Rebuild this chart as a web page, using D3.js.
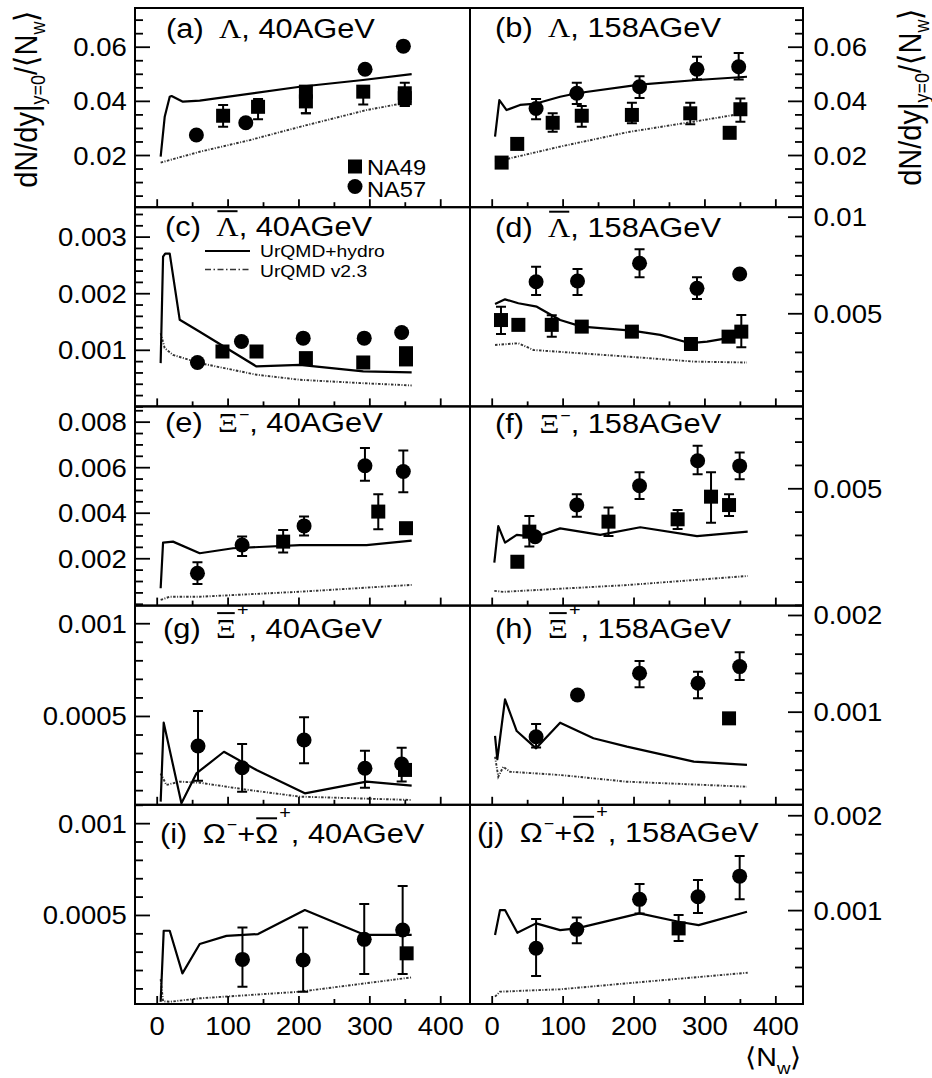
<!DOCTYPE html>
<html>
<head>
<meta charset="utf-8">
<script src="https://cdn.jsdelivr.net/npm/d3@7"></script>
<style>
  html, body { margin: 0; padding: 0; background: #fff; }
</style>
</head>
<body>
<svg id="fig" width="932" height="1078"></svg>
<script>
// Strange-baryon yields per wounded nucleon at midrapidity vs. <N_w>.
// Points: [N_w, value, errLow, errHigh]; model curves: [N_w, value].

// (a) Lambda, 40 AGeV
const lam40NA49 = [[93.7,0.0345,0.0304,0.0385],[143,0.0378,0.0332,0.0407],[210.5,0.0434,0.0354,0.0450],[210.5,0.0398,0.0354,0.0434],[291.4,0.0434,0.0387,0.0455],[350,0.0428,0.0381,0.0467],[350,0.0410,0.0381,0.0440]];
const lam40NA57 = [[56,0.0274],[125.7,0.0319],[294,0.0517],[348,0.0602]];
const lam40Hydro = [[5.6,0.0194],[11.3,0.0341],[18.4,0.0415],[21,0.0418],[37,0.0397],[60.7,0.0401],[202,0.0452],[291,0.0477],[359.7,0.0499]];
const lam40V23 = [[5.6,0.0172],[60.7,0.0212],[131.4,0.0255],[202,0.0304],[296,0.0366],[359.7,0.0397]];

// (b) Lambda, 158 AGeV
const lam158NA49 = [[14,0.0172],[36,0.0241],[86,0.0319,0.0286,0.0354],[127,0.0345,0.0304,0.0381],[197.7,0.0348,0.0317,0.0393],[280,0.0354,0.0314,0.0393],[335.6,0.0282],[350.7,0.0369,0.0323,0.0409]];
const lam158NA57 = [[62.6,0.0372,0.0332,0.0407],[120,0.0428,0.0388,0.0467],[208.5,0.0452,0.0411,0.0491],[289.5,0.0517,0.0480,0.0563],[348.3,0.0526,0.0479,0.0577]];
const lam158Hydro = [[4.7,0.0268],[10.8,0.0403],[21,0.0366],[40,0.0385],[62.6,0.039],[96.5,0.0415],[120,0.0428],[208.5,0.046],[289.5,0.0477],[360,0.0489]];
const lam158V23 = [[4.7,0.0175],[96.5,0.0231],[195,0.0286],[284.7,0.0323],[360,0.0356]];

// (c) anti-Lambda, 40 AGeV
const alam40NA49 = [[92.8,0.00097],[140.8,0.00097],[210.5,0.000853],[291.4,0.000776],[351.7,0.00094],[351.7,0.00083]];
const alam40NA57 = [[57.5,0.000776],[119.6,0.001146],[206.7,0.001206],[292.8,0.001206],[345.6,0.001306]];
const alam40Hydro = [[5.6,0.000765],[9,0.002646],[12,0.0027],[18.4,0.0027],[32.5,0.00153],[60.7,0.00132],[140.8,0.000706],[202,0.000735],[291.4,0.000618],[359.7,0.0006]];
const alam40V23 = [[5.6,0.001294],[11.3,0.00103],[23,0.00091],[60.7,0.000765],[140.8,0.00056],[202,0.00047],[291.4,0.00041],[359.7,0.00037]];

// (d) anti-Lambda, 158 AGeV
const alam158NA49 = [[13.1,0.00465,0.00393,0.00534],[37.6,0.0044],[84.7,0.0044,0.00379,0.0049],[127,0.00431],[197.7,0.00405],[281,0.00341],[334,0.00379],[352,0.00405,0.00324,0.00491]];
const alam158NA57 = [[62.6,0.00663,0.00595,0.00741],[121,0.00667,0.00595,0.00729],[208.5,0.00759,0.00686,0.00831],[289.5,0.00629,0.00574,0.00686],[349.7,0.00703]];
const alam158Hydro = [[4.7,0.00548],[18.8,0.00572],[37.6,0.00552],[63.6,0.00534],[96.5,0.00465],[127,0.00431],[197.7,0.0041],[237.7,0.00388],[280,0.00345],[303.7,0.00353],[360,0.00388]];
const alam158V23 = [[4.7,0.00336],[37.6,0.00345],[58.8,0.0031],[190.7,0.00276],[285,0.0025],[360,0.00245]];

// (e) Xi-, 40 AGeV
const xim40NA49 = [[178.4,0.00273,0.00225,0.00324],[312.6,0.00405,0.00327,0.00481],[351.7,0.00332]];
const xim40NA57 = [[57.5,0.00134,0.00087,0.00182],[120.5,0.00258,0.0021,0.00295],[207.9,0.00342,0.003,0.00383],[293.8,0.00606,0.0054,0.00684],[347.9,0.00581,0.0049,0.00673]];
const xim40Hydro = [[5.6,0.00068],[9,0.00269],[23,0.00273],[60.7,0.00222],[107.7,0.00244],[202,0.00258],[296,0.00258],[359.7,0.00277]];
const xim40V23 = [[5.6,0.00017],[18.4,0.00031],[60.7,0.00031],[202,0.00053],[359.7,0.00083]];

// (f) Xi-, 158 AGeV
const xim158NA49 = [[36.2,0.00185],[53.1,0.00314,0.0025,0.00381],[164.7,0.00357,0.00295,0.00418],[262.2,0.00367,0.00325,0.00407],[309.3,0.00464,0.00352,0.00569],[334.7,0.00428,0.00381,0.00474]];
const xim158NA57 = [[61.2,0.00292],[120,0.00428,0.00378,0.00474],[208.5,0.00511,0.00454,0.00569],[290.4,0.00618,0.0056,0.00682],[349.7,0.00596,0.00539,0.00653]];
const xim158Hydro = [[3.7,0.00181],[9.3,0.00338],[18.8,0.00267],[35.3,0.003],[62.6,0.00292],[96.5,0.00328],[153,0.003],[209.5,0.00333],[289.5,0.00295],[361,0.00314]];
const xim158V23 = [[3.7,0.0006],[16.4,0.00056],[190.7,0.00085],[361,0.00124]];

// (g) anti-Xi+, 40 AGeV
const axi40NA49 = [[350.3,0.000209]];
const axi40NA57 = [[58.3,0.000338,0.00015,0.000527],[120.5,0.000221,0.000092,0.000349],[207.9,0.00037,0.000245,0.000493],[293.8,0.000218,0.000113,0.000313],[345.6,0.000241,0.000146,0.000329]];
const axi40Hydro = [[5.6,0.000038],[9.9,0.000464],[34.9,0.000029],[56,0.00019],[94.9,0.000307],[140.8,0.000209],[209,0.000083],[296,0.000146],[359.7,0.000124]];
const axi40V23 = [[5.6,0.00019],[13.7,0.000128],[32.5,0.000146],[60.7,0.00014],[131.4,0.0001],[202,0.000065],[359.7,0.000047]];

// (h) anti-Xi+, 158 AGeV
const axi158NA49 = [[334.7,0.000931]];
const axi158NA57 = [[62.6,0.000741,0.00063,0.000873],[121,0.001173],[208.5,0.001397,0.001252,0.001524],[290.9,0.001294,0.001138,0.001414],[349.7,0.001466,0.001328,0.001614]];
const axi158Hydro = [[4.7,0.000749],[7.9,0.000508],[18.8,0.001128],[35.3,0.0008],[62.6,0.000621],[96.5,0.000886],[143.5,0.000725],[190.7,0.000638],[285,0.000483],[360,0.000449]];
const axi158V23 = [[4.7,0.000534],[9.3,0.000328],[16.4,0.000431],[25.8,0.000379],[96.5,0.000345],[190.7,0.000276],[360,0.000224]];

// (i) Omega- + anti-Omega+, 40 AGeV
const om40NA49 = [[352.6,0.000291]];
const om40NA57 = [[121,0.000258,0.000109,0.000431],[206.6,0.000255,0.000082,0.000431],[292.8,0.000367,0.000178,0.00056],[347,0.000418,0.000178,0.000658]];
const om40Hydro = [[5.6,0.000027],[9.9,0.000414],[18.4,0.000414],[36.3,0.000182],[60.7,0.000342],[98.4,0.000386],[143,0.000396],[209,0.000527],[293.8,0.000391],[359.7,0.000391]];
const om40V23 = [[5.6,0.00015],[9,0.00003],[18.4,0.000027],[60.7,0.000046],[202,0.000082],[359.7,0.00016]];

// (j) Omega- + anti-Omega+, 158 AGeV
const om158NA49 = [[263.6,0.000807,0.000674,0.000947]];
const om158NA57 = [[62.6,0.000597,0.000305,0.000905],[120,0.000797,0.00065,0.000923],[208.5,0.001113,0.000965,0.001274],[290.9,0.00114,0.00097,0.001316],[349.7,0.001358,0.001113,0.00157]];
const om158Hydro = [[4.7,0.000737],[11.7,0.001],[18.8,0.001],[36.2,0.000761],[62.6,0.00086],[96.5,0.000789],[120,0.000807],[208.5,0.000965],[263.6,0.000877],[291.8,0.000842],[360,0.000982]];
const om158V23 = [[4.7,0.000087],[11.7,0.00014],[96.5,0.000165],[190.7,0.000228],[361,0.00034]];

// Axis ticks
const xMajor = [0, 100, 200, 300, 400];
const xMinor = [50, 150, 250, 350];
const xLabels = ["0", "100", "200", "300", "400"];

const legendData = ["NA49", "NA57"];
const legendModels = ["UrQMD+hydro", "UrQMD v2.3"];

// ---------------------------------------------------------------------------
const FONT = "'Liberation Sans', Arial, Helvetica, sans-serif";
const SERIF = "'Liberation Serif', 'Times New Roman', serif";
const SX = 1.1;              // horizontal glyph stretch
const FL = 135, FM = 470, FR = 803, FT = 8, FB = 1004;
const ROWH = (FB - FT) / 5;
const xDomL = [-30.6, 442], xDomR = [-30.6, 439];
const TITLE = 28;

const particles = {
  lam:  [{t: "Λ", serif: true}],
  alam: [{t: "Λ", serif: true, bar: true}],
  xim:  [{t: "Ξ", serif: true, gap: 1}, {t: "−", size: 16, dy: -12}],
  axi:  [{t: "Ξ", serif: true, bar: true, gap: 1}, {t: "+", size: 18, dy: -22}],
  om:   [{t: "Ω", gap: 1}, {t: "−", size: 16, dy: -13}, {t: "+"}, {t: "Ω", bar: true, gap: 1}, {t: "+", size: 18, dy: -24}]
};

const panels = [
  {tag: "(a)", sym: "lam",  en: "40AGeV",  col: 0, row: 0, tx: 166, ty: 30,   dom: [0.00072, 0.0743], maj: [0.02, 0.04, 0.06], lab: ["0.02", "0.04", "0.06"], step: 0.005, na49: lam40NA49, na57: lam40NA57, hydro: lam40Hydro, v23: lam40V23},
  {tag: "(b)", sym: "lam",  en: "158AGeV", col: 1, row: 0, tx: 495, ty: 29,   dom: [0.00072, 0.0743], maj: [0.02, 0.04, 0.06], lab: ["0.02", "0.04", "0.06"], step: 0.005, na49: lam158NA49, na57: lam158NA57, hydro: lam158Hydro, v23: lam158V23},
  {tag: "(c)", sym: "alam", en: "40AGeV",  col: 0, row: 1, tx: 165, ty: 29,   dom: [0, 0.00352], maj: [0.001, 0.002, 0.003], lab: ["0.001", "0.002", "0.003"], step: 0.0002, na49: alam40NA49, na57: alam40NA57, hydro: alam40Hydro, v23: alam40V23},
  {tag: "(d)", sym: "alam", en: "158AGeV", col: 1, row: 1, tx: 495, ty: 29.5, dom: [0.00018, 0.01049], maj: [0.005, 0.01], lab: ["0.005", "0.01"], step: 0.001, na49: alam158NA49, na57: alam158NA57, hydro: alam158Hydro, v23: alam158V23},
  {tag: "(e)", sym: "xim",  en: "40AGeV",  col: 0, row: 2, tx: 165, ty: 25.5, dom: [-0.00008, 0.00867], maj: [0.002, 0.004, 0.006, 0.008], lab: ["0.002", "0.004", "0.006", "0.008"], step: 0.0005, na49: xim40NA49, na57: xim40NA57, hydro: xim40Hydro, v23: xim40V23},
  {tag: "(f)", sym: "xim",  en: "158AGeV", col: 1, row: 2, tx: 495, ty: 27,   dom: [-0.00003, 0.00851], maj: [0.005], lab: ["0.005"], step: 0.001, na49: xim158NA49, na57: xim158NA57, hydro: xim158Hydro, v23: xim158V23},
  {tag: "(g)", sym: "axi",  en: "40AGeV",  col: 0, row: 3, tx: 163, ty: 32.5, dom: [0.000021, 0.001095], maj: [0.0005, 0.001], lab: ["0.0005", "0.001"], step: 0.0001, na49: axi40NA49, na57: axi40NA57, hydro: axi40Hydro, v23: axi40V23},
  {tag: "(h)", sym: "axi",  en: "158AGeV", col: 1, row: 3, tx: 495, ty: 32.5, dom: [0.000037, 0.002097], maj: [0.001, 0.002], lab: ["0.001", "0.002"], step: 0.0002, na49: axi158NA49, na57: axi158NA57, hydro: axi158Hydro, v23: axi158V23},
  {tag: "(i)", sym: "om",   en: "40AGeV",  col: 0, row: 4, tx: 160, ty: 38.5, dom: [0.000015, 0.0011], maj: [0.0005, 0.001], lab: ["0.0005", "0.001"], step: 0.0001, na49: om40NA49, na57: om40NA57, hydro: om40Hydro, v23: om40V23},
  {tag: "(j)", sym: "om",   en: "158AGeV", col: 1, row: 4, tx: 477, ty: 37,   dom: [0.00001, 0.00211], maj: [0.001, 0.002], lab: ["0.001", "0.002"], step: 0.0002, na49: om158NA49, na57: om158NA57, hydro: om158Hydro, v23: om158V23}
];

const svg = d3.select("#fig");
svg.append("rect").attr("width", 932).attr("height", 1078).attr("fill", "#fff");

function drawTitle(parent, x, y, segs) {
  const g = parent.append("g").attr("transform", `translate(${x},${y}) scale(${SX},1)`);
  let cx = 0;
  segs.forEach(s => {
    const t = g.append("text")
      .attr("x", cx).attr("y", s.dy || 0)
      .attr("font-family", s.serif ? SERIF : FONT)
      .attr("font-size", s.size || TITLE)
      .attr("fill", "#000")
      .text(s.t);
    const w = t.node().getComputedTextLength();
    if (s.bar) {
      g.append("line").attr("x1", cx + 1).attr("x2", cx + w - 1)
        .attr("y1", -25).attr("y2", -25)
        .attr("stroke", "#000").attr("stroke-width", 2);
    }
    cx += w + (s.gap || 0);
  });
}

function drawPanel(p, i) {
  const x0 = p.col === 0 ? FL : FM, x1 = p.col === 0 ? FM : FR;
  const y0 = FT + p.row * ROWH, y1 = y0 + ROWH;
  const x = d3.scaleLinear().domain(p.col === 0 ? xDomL : xDomR).range([x0, x1]);
  const y = d3.scaleLinear().domain(p.dom).range([y1, y0]);

  const g = svg.append("g");
  const cid = "clip" + i;
  g.append("clipPath").attr("id", cid).append("rect")
    .attr("x", x0).attr("y", y0).attr("width", x1 - x0).attr("height", y1 - y0);
  const body = g.append("g").attr("clip-path", `url(#${cid})`);

  const line = d3.line().x(d => x(d[0])).y(d => y(d[1]));
  body.append("path").datum(p.v23).attr("d", line)
    .attr("fill", "none").attr("stroke", "#333").attr("stroke-width", 1.9)
    .attr("stroke-dasharray", "2.5,1.5,1,1.5");
  body.append("path").datum(p.hydro).attr("d", line)
    .attr("fill", "none").attr("stroke", "#000").attr("stroke-width", 2.2)
    .attr("stroke-linejoin", "round");

  // error bars
  const withErr = p.na49.concat(p.na57).filter(d => d.length > 2);
  const eb = body.append("g").attr("stroke", "#000").attr("stroke-width", 2);
  withErr.forEach(d => {
    const cx = x(d[0]);
    eb.append("line").attr("x1", cx).attr("x2", cx).attr("y1", y(d[2])).attr("y2", y(d[3]));
    [d[2], d[3]].forEach(v => eb.append("line")
      .attr("x1", cx - 5).attr("x2", cx + 5).attr("y1", y(v)).attr("y2", y(v)));
  });

  body.append("g").selectAll("rect").data(p.na49).join("rect")
    .attr("x", d => x(d[0]) - 7).attr("y", d => y(d[1]) - 7)
    .attr("width", 14).attr("height", 14).attr("fill", "#000");
  body.append("g").selectAll("circle").data(p.na57).join("circle")
    .attr("cx", d => x(d[0])).attr("cy", d => y(d[1])).attr("r", 7.5).attr("fill", "#000");

  // x axis: ticks pointing up from the bottom edge
  const bottom = p.row === 4;
  const axMinor = d3.axisBottom(x).tickValues(xMinor).tickSizeInner(-5).tickSizeOuter(0).tickFormat("");
  const axMajor = d3.axisBottom(x).tickValues(xMajor).tickSizeInner(-8).tickSizeOuter(0)
    .tickPadding(13).tickFormat((d, k) => bottom ? xLabels[k] : "");
  [axMinor, axMajor].forEach(ax => {
    const a = g.append("g").attr("transform", `translate(0,${y1})`).call(ax);
    a.select(".domain").remove();
    a.selectAll("line").attr("stroke", "#000").attr("stroke-width", 1.8);
    a.selectAll("text").attr("font-family", FONT).attr("font-size", 25).attr("fill", "#000")
      .attr("transform", `scale(${SX},1)`);
  });

  // y axis: outer side of each column
  const lo = Math.ceil(p.dom[0] / p.step - 1e-9), hi = Math.floor(p.dom[1] / p.step + 1e-9);
  const minorVals = d3.range(lo, hi + 1).map(k => +(k * p.step).toPrecision(6))
    .filter(v => !p.maj.some(m => Math.abs(m - v) < p.step / 10));
  const left = p.col === 0;
  const mk = left ? d3.axisLeft : d3.axisRight;
  const yMinorAx = mk(y).tickValues(minorVals).tickSizeInner(-8).tickSizeOuter(0).tickFormat("");
  const yMajorAx = mk(y).tickValues(p.maj).tickSizeInner(-15).tickSizeOuter(0)
    .tickPadding(left ? 7.5 : 9.5).tickFormat((d, k) => p.lab[k]);
  [yMinorAx, yMajorAx].forEach(ax => {
    const a = g.append("g").attr("transform", `translate(${left ? x0 : x1},0)`).call(ax);
    a.select(".domain").remove();
    a.selectAll("line").attr("stroke", "#000").attr("stroke-width", 1.8);
    a.selectAll("text").attr("font-family", FONT).attr("font-size", 25).attr("fill", "#000")
      .attr("dy", "0.36em").attr("transform", `scale(${SX},1)`);
  });

  g.append("rect").attr("x", x0).attr("y", y0).attr("width", x1 - x0).attr("height", y1 - y0)
    .attr("fill", "none").attr("stroke", "#000").attr("stroke-width", 2);

  drawTitle(g, p.tx, y0 + p.ty,
    [{t: p.tag, gap: 14}].concat(particles[p.sym]).concat([{t: ", " + p.en}]));

  return {x, y, x0, x1, y0, y1, g};
}

const drawn = panels.map(drawPanel);

// Data legend in panel (a)
{
  const L = svg.append("g");
  L.append("rect").attr("x", 348).attr("y", 159.5).attr("width", 14).attr("height", 14).attr("fill", "#000");
  L.append("circle").attr("cx", 355).attr("cy", 186.5).attr("r", 7.5).attr("fill", "#000");
  legendData.forEach((t, k) => {
    L.append("text").attr("transform", `translate(367,${175 + k * 22}) scale(${SX},1)`)
      .attr("font-family", FONT).attr("font-size", 21.5).attr("fill", "#000").text(t);
  });
}

// Model legend in panel (c)
{
  const L = svg.append("g");
  L.append("line").attr("x1", 205).attr("x2", 250).attr("y1", 251).attr("y2", 251)
    .attr("stroke", "#000").attr("stroke-width", 2.2);
  L.append("line").attr("x1", 205).attr("x2", 250).attr("y1", 269.5).attr("y2", 269.5)
    .attr("stroke", "#333").attr("stroke-width", 1.7).attr("stroke-dasharray", "6,2.5,1.5,2.5");
  legendModels.forEach((t, k) => {
    L.append("text").attr("transform", `translate(260,${257 + k * 19.5}) scale(1.17,1)`)
      .attr("font-family", FONT).attr("font-size", 16.5).attr("fill", "#000").text(t);
  });
}

// Axis titles
function yTitle(x, y) {
  const t = svg.append("text")
    .attr("transform", `translate(${x},${y}) scale(${SX},1) rotate(-90)`)
    .attr("text-anchor", "middle").attr("font-family", FONT).attr("font-size", 29).attr("fill", "#000");
  t.append("tspan").text("dN/dy|");
  t.append("tspan").attr("font-size", 18).attr("dy", 7).text("y=0");
  t.append("tspan").attr("dy", -7).text("/⟨N");
  t.append("tspan").attr("font-size", 18).attr("dy", 7).text("w");
  t.append("tspan").attr("dy", -7).text("⟩");
}
yTitle(37, 99);
yTitle(921, 97);

{
  const t = svg.append("text")
    .attr("transform", `translate(802,1066) scale(${SX},1)`)
    .attr("text-anchor", "end").attr("font-family", FONT).attr("font-size", 26).attr("fill", "#000");
  t.append("tspan").text("⟨N");
  t.append("tspan").attr("font-size", 17).attr("dy", 8).text("w");
  t.append("tspan").attr("dy", -8).text("⟩");
}
</script>
</body>
</html>
